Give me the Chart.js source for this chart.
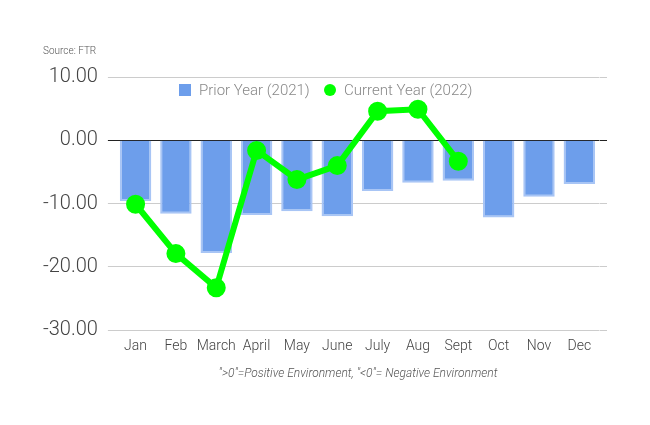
<!DOCTYPE html>
<html>
<head>
<meta charset="utf-8">
<script src="https://cdn.jsdelivr.net/npm/chart.js@4"></script>
<style>
  html, body { margin: 0; padding: 0; background: #fff; }
  #wrap { position: relative; width: 650px; height: 425px; }
  #src { position: absolute; left: 43px; top: 45px; font: 300 10px Roboto, sans-serif; color: #555; }
  #note { position: absolute; left: 0; width: 716px; top: 366px; text-align: center; font: italic 300 12px Roboto, sans-serif; color: #555; }
  .leg { position: absolute; top: 81px; font: 300 15px Roboto, sans-serif; color: #888; line-height: 18px; white-space: nowrap; }
  .sw { position: absolute; }
</style>
</head>
<body>
<div id="wrap">
  <canvas id="c" width="650" height="425"></canvas>
  <div id="src">Source: FTR</div>
  <div id="legend"></div>
  <div id="note">"&gt;0"=Positive Environment, "&lt;0"= Negative Environment</div>
</div>
<script>
const categories = ["Jan","Feb","March","April","May","June","July","Aug","Sept","Oct","Nov","Dec"];
const priorYear = [-9.6, -11.6, -17.8, -11.8, -11.2, -12.0, -8.0, -6.7, -6.4, -12.2, -8.9, -6.9];
const currentYear = [-10.1, -17.9, -23.3, -1.6, -6.2, -4.0, 4.6, 4.9, -3.3, null, null, null];
const seriesNames = ["Prior Year (2021)", "Current Year (2022)"];
const yTicks = [10, 0, -10, -20, -30];
const barColor = '#6d9eeb';
const lineColor = '#00ff00';

// HTML legend
const legend = document.getElementById('legend');
legend.innerHTML =
  '<div class="sw" style="left:179px;top:84px;width:12px;height:12px;background:' + barColor + '"></div>' +
  '<div class="leg" style="left:199px">' + seriesNames[0] + '</div>' +
  '<div class="sw" style="left:324px;top:84px;width:12px;height:12px;border-radius:50%;background:' + lineColor + '"></div>' +
  '<div class="leg" style="left:344px">' + seriesNames[1] + '</div>';

const gridColor = (ctx) => (ctx.tick && ctx.tick.value === 0 ? '#222' : '#cccccc');
const setTicks = (axis) => { axis.ticks = yTicks.slice().reverse().map(v => ({ value: v })); };

new Chart(document.getElementById('c'), {
  data: {
    labels: categories,
    datasets: [
      {
        type: 'line',
        label: seriesNames[1],
        data: currentYear,
        borderColor: lineColor,
        backgroundColor: lineColor,
        borderWidth: 6,
        pointRadius: 6.5,
        pointHoverRadius: 6.5,
        tension: 0,
        spanGaps: false,
        order: 0
      },
      {
        type: 'bar',
        label: seriesNames[0],
        data: priorYear,
        backgroundColor: barColor,
        borderColor: '#a8c5f5',
        borderWidth: 2,
        barPercentage: 0.78,
        categoryPercentage: 1.0,
        order: 1
      }
    ]
  },
  options: {
    responsive: false,
    animation: false,
    layout: { padding: { left: 33, right: 43, top: 77, bottom: 70 } },
    plugins: {
      legend: { display: false },
      tooltip: { enabled: false }
    },
    scales: {
      x: {
        grid: { display: false },
        border: { display: false },
        ticks: { color: '#444', maxRotation: 0, autoSkip: false, font: { family: 'Roboto', size: 14, weight: 300 }, padding: 0 }
      },
      y: {
        min: -30,
        max: 10,
        afterBuildTicks: setTicks,
        grid: { drawTicks: true, tickLength: 7.5, color: gridColor, lineWidth: 1 },
        border: { display: false },
        ticks: {
          padding: 10,
          color: '#444',
          font: { family: 'Roboto', size: 20, weight: 300 },
          callback: (v) => Number(v).toFixed(2)
        }
      },
      y2: {
        position: 'right',
        min: -30,
        max: 10,
        afterBuildTicks: setTicks,
        grid: { drawOnChartArea: false, drawTicks: true, tickLength: 7.5, color: gridColor, lineWidth: 1 },
        border: { display: false },
        ticks: { display: false }
      }
    }
  }
});
</script>
</body>
</html>
